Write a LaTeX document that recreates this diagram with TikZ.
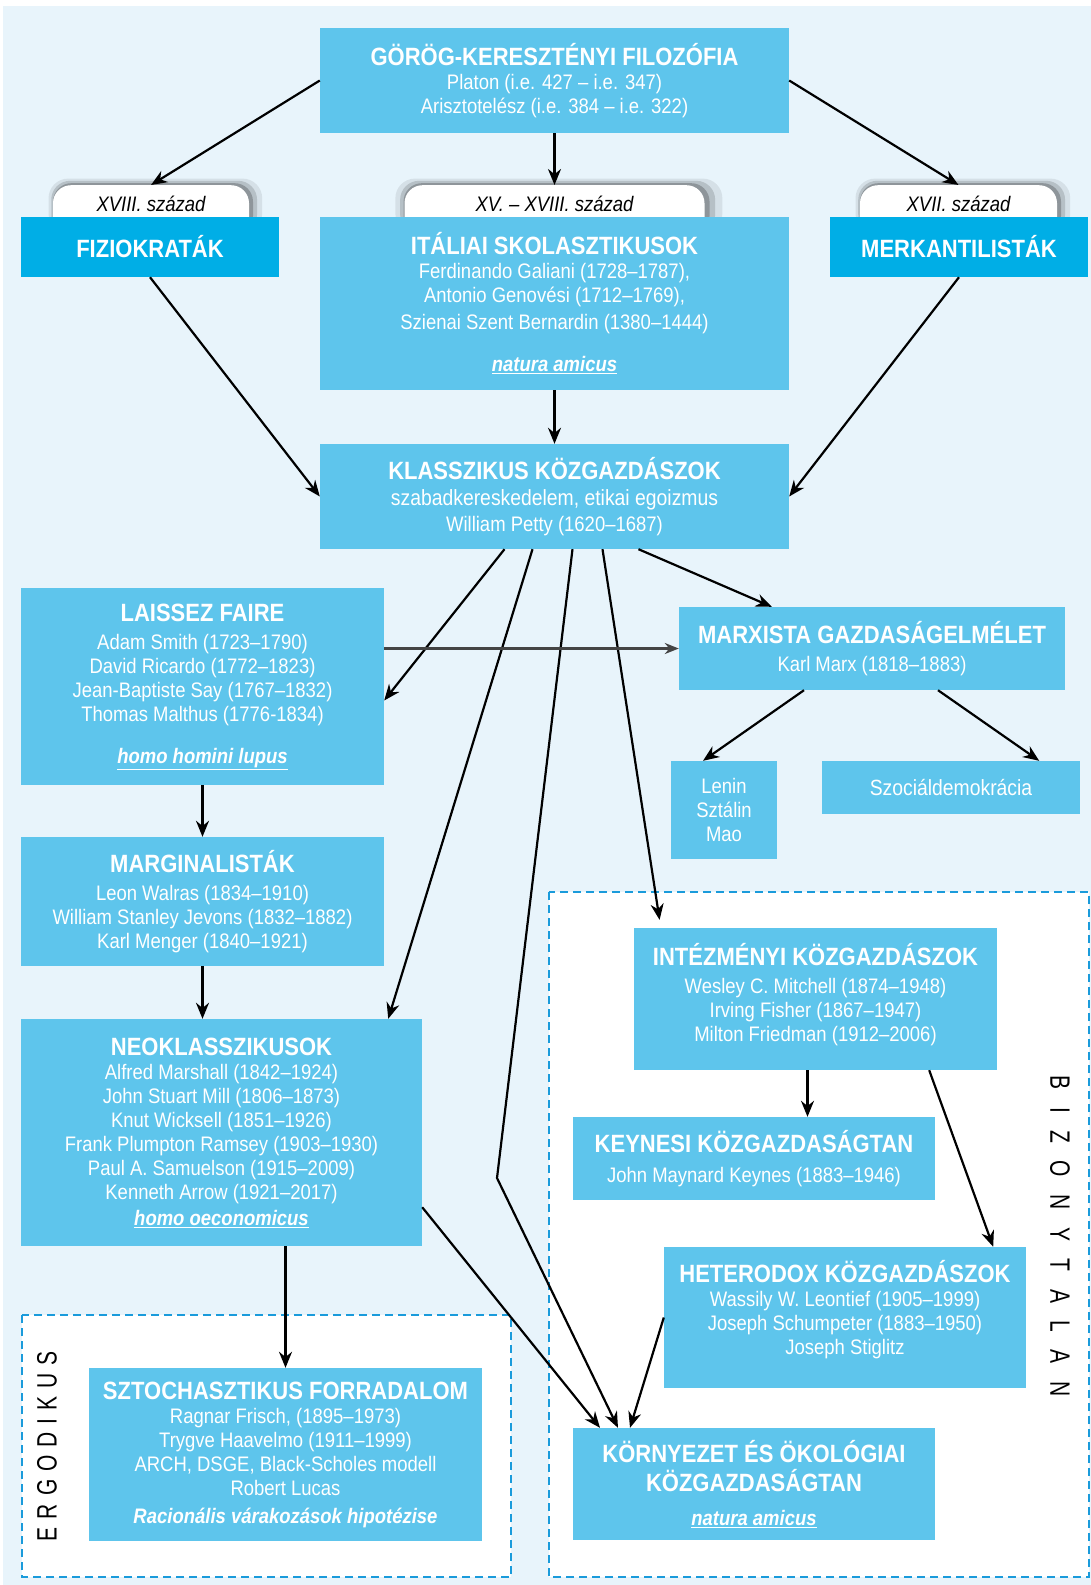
\documentclass[tikz,border=0pt]{standalone}
\usepackage{fontspec}
\setmainfont{Liberation Sans}[FakeStretch=0.88]
\newfontfamily\sidefont{Liberation Sans}[FakeStretch=0.75]
\usetikzlibrary{arrows.meta,shadows}

\definecolor{boxblue}{HTML}{5EC5EC}
\definecolor{headblue}{HTML}{00AEE6}
\definecolor{paleblue}{HTML}{E8F4FB}
\definecolor{dashblue}{HTML}{1A9BDB}
\definecolor{linkgray}{HTML}{444444}

\newcommand{\boxtitle}[1]{{\fontsize{25}{28}\selectfont\bfseries #1}}
\newcommand{\motto}[1]{\underline{\textbf{\textit{#1}}}}
\newcommand{\zonelabel}[2]{\sidefont\fontsize{28}{28}\selectfont\spaceskip=#1\relax #2}

\begin{document}
\begin{tikzpicture}
  [x=1pt,y=-1pt,
   box/.style={rectangle,fill=boxblue,text=white,align=center,inner sep=0pt,
     font=\fontsize{21}{24}\selectfont},
   headbox/.style={box,fill=headblue},
   tabbox/.style={rectangle,rounded corners=18pt,fill=white,anchor=north,
     minimum height=50pt,inner sep=0pt,font=\fontsize{21}{24}\selectfont\itshape,
     general shadow={fill=black,opacity=.08,shadow scale=1.09,shadow xshift=4pt,shadow yshift=4pt},
     general shadow={fill=black,opacity=.14,shadow scale=1.05,shadow xshift=3pt,shadow yshift=3pt},
     general shadow={fill=black,opacity=.22,shadow scale=1.02,shadow xshift=2pt,shadow yshift=1.5pt}},
   zone/.style={draw=dashblue,fill=white,line width=2.5pt,dash pattern=on 8pt off 5pt},
   arr/.style={-{Stealth[length=16pt,width=13pt]},line width=2.2pt}]

  \useasboundingbox (0,0) rectangle (1091,1585);
  \fill[paleblue] (3,6) rectangle (1091,1585);

  % dashed zones
  \draw[zone] (549,892) rectangle (1089,1577);
  \draw[zone] (22,1315) rectangle (511,1577);
  \node[rotate=90] (ergo) at (47,1446) {\zonelabel{8pt}{E R G O D I K U S}};
  \node[rotate=-90] (bizony) at (1060,1236) {\zonelabel{17.5pt}{B I Z O N Y T A L A N}};

  % tabs
  \node[tabbox,minimum width=196pt] (tabfiz)   at (151,185)   {\raisebox{-1pt}[0pt][0pt]{XVIII. század}};
  \node[tabbox,minimum width=300pt] (tabital)  at (554.5,185) {\raisebox{-1pt}[0pt][0pt]{XV. -- XVIII. század}};
  \node[tabbox,minimum width=197pt] (tabmerk)  at (958.5,185) {\raisebox{-1pt}[0pt][0pt]{XVII. század}};

  % boxes
  \node[box,minimum width=469pt,minimum height=105pt] (gorog) at (554.5,80.5)
    {\boxtitle{GÖRÖG-KERESZTÉNYI FILOZÓFIA}\\ Platon (i.e. 427 -- i.e. 347)\\ Arisztotelész (i.e. 384 -- i.e. 322)};
  \node[headbox,minimum width=258pt,minimum height=60pt] (fizio) at (150,247) {\boxtitle{FIZIOKRATÁK}};
  \node[headbox,minimum width=258pt,minimum height=60pt] (merk) at (959,247) {\boxtitle{MERKANTILISTÁK}};
  \node[box,minimum width=469pt,minimum height=173pt] (ital) at (554.5,303.5)
    {\boxtitle{ITÁLIAI SKOLASZTIKUSOK}\\ Ferdinando Galiani (1728--1787),\\ Antonio Genovési (1712--1769),\\[3pt]
     Szienai Szent Bernardin (1380--1444)\\[18pt] \motto{natura amicus}};
  \node[box,minimum width=469pt,minimum height=105pt] (klassz) at (554.5,496.5)
    {\boxtitle{KLASSZIKUS KÖZGAZDÁSZOK}\\[2pt] {\fontsize{22}{24}\selectfont szabadkereskedelem, etikai egoizmus}\\[2pt] William Petty (1620--1687)};
  \node[box,minimum width=363pt,minimum height=197pt] (laissez) at (202.5,686.5)
    {\boxtitle{LAISSEZ FAIRE}\\[4pt] Adam Smith (1723--1790)\\ David Ricardo (1772--1823)\\ Jean-Baptiste Say (1767--1832)\\
     Thomas Malthus (1776-1834)\\[18pt] \motto{homo homini lupus}};
  \node[box,minimum width=386pt,minimum height=83pt] (marx) at (872,648.5)
    {\boxtitle{MARXISTA GAZDASÁGELMÉLET}\\[4pt] Karl Marx (1818--1883)};
  \node[box,minimum width=106pt,minimum height=98pt] (lenin) at (724,810) {Lenin\\ Sztálin\\ Mao};
  \node[box,minimum width=258pt,minimum height=53pt] (szoc) at (951,787.5)
    {\fontsize{22}{24}\selectfont Szociáldemokrácia};
  \node[box,minimum width=363pt,minimum height=129pt] (marg) at (202.5,901.5)
    {\boxtitle{MARGINALISTÁK}\\[4pt] Leon Walras (1834--1910)\\ William Stanley Jevons (1832--1882)\\ Karl Menger (1840--1921)};
  \node[box,minimum width=401pt,minimum height=227pt] (neo) at (221.5,1132.5)
    {\boxtitle{NEOKLASSZIKUSOK}\\ Alfred Marshall (1842--1924)\\ John Stuart Mill (1806--1873)\\ Knut Wicksell (1851--1926)\\
     Frank Plumpton Ramsey (1903--1930)\\ Paul A. Samuelson (1915--2009)\\ Kenneth Arrow (1921--2017)\\[2pt]
     \motto{homo oeconomicus}};
  \node[box,minimum width=363pt,minimum height=142pt] (inter) at (815.5,999)
    {\boxtitle{INTÉZMÉNYI KÖZGAZDÁSZOK}\\[4pt] Wesley C. Mitchell (1874--1948)\\ Irving Fisher (1867--1947)\\
     Milton Friedman (1912--2006)\\[-10pt]\mbox{}};
  \node[box,minimum width=362pt,minimum height=83pt] (keynes) at (754,1158.5)
    {\boxtitle{KEYNESI KÖZGAZDASÁGTAN}\\[6pt] John Maynard Keynes (1883--1946)};
  \node[box,minimum width=362pt,minimum height=141pt] (het) at (845,1317.5)
    {\boxtitle{HETERODOX KÖZGAZDÁSZOK}\\ Wassily W. Leontief (1905--1999)\\ Joseph Schumpeter (1883--1950)\\
     Joseph Stiglitz\\[-4pt]\mbox{}};
  \node[box,minimum width=362pt,minimum height=112pt] (korny) at (754,1484)
    {\boxtitle{KÖRNYEZET ÉS ÖKOLÓGIAI}\\[5pt] \boxtitle{KÖZGAZDASÁGTAN}\\[10pt] \motto{natura amicus}};
  \node[box,minimum width=393pt,minimum height=173pt] (szto) at (285.5,1454.5)
    {\boxtitle{SZTOCHASZTIKUS FORRADALOM}\\ Ragnar Frisch, (1895--1973)\\ Trygve Haavelmo (1911--1999)\\
     ARCH, DSGE, Black-Scholes modell\\ Robert Lucas\\[4pt] {\bfseries\itshape Racionális várakozások hipotézise}};

  % connector ends
  \coordinate (k1) at ([xshift=-50pt]klassz.south);
  \coordinate (k2) at ([xshift=-22pt]klassz.south);
  \coordinate (k3) at ([xshift=18pt]klassz.south);
  \coordinate (k4) at ([xshift=48pt]klassz.south);
  \coordinate (k5) at ([xshift=84pt]klassz.south);
  \coordinate (bend) at (497,1178);
  \coordinate (l1) at ([yshift=-14pt]laissez.east);
  \coordinate (n1) at ([xshift=-34pt]neo.north east);
  \coordinate (n2) at ([yshift=39pt]neo.south east);
  \coordinate (i1) at ([xshift=27pt]inter.north west);
  \coordinate (i2) at ([xshift=-8pt]inter.south);
  \coordinate (i3) at ([xshift=-68pt]inter.south east);
  \coordinate (h1) at ([xshift=-33pt]het.north east);
  \coordinate (m1) at ([xshift=93pt]marx.north west);
  \coordinate (m2) at ([xshift=-68pt]marx.south);
  \coordinate (m3) at ([xshift=66pt]marx.south);
  \coordinate (le1) at ([xshift=-21pt]lenin.north);
  \coordinate (sz1) at ([xshift=-41pt]szoc.north east);
  \coordinate (c1) at ([xshift=-154pt]korny.north);
  \coordinate (c2) at ([xshift=-136pt]korny.north);
  \coordinate (c3) at ([xshift=-124pt]korny.north);

  \foreach \from/\to in {gorog.west/tabfiz.north,gorog.south/tabital.north,gorog.east/tabmerk.north,
      fizio.south/klassz.west,ital.south/klassz.north,merk.south/klassz.east,
      k1/l1,k2/n1,k5/m1,m2/le1,m3/sz1,laissez.south/marg.north,n2/c1,het.west/c3,i3/h1}
    \draw[arr] (\from) -- (\to);

  \draw[arr] (k3) -- (bend) -- (c2);
  \draw[arr,shorten >=8pt] (k4) -- (i1);
  \draw[arr] (marg.south) -- (marg.south |- neo.north);
  \draw[arr] (szto.north |- neo.south) -- (szto.north);
  \draw[arr] (i2) -- (i2 |- keynes.north);
  \draw[-{Stealth[length=14pt,width=11pt]},line width=2.8pt,linkgray] (laissez.east |- marx.west) -- (marx.west);

\end{tikzpicture}
\end{document}
